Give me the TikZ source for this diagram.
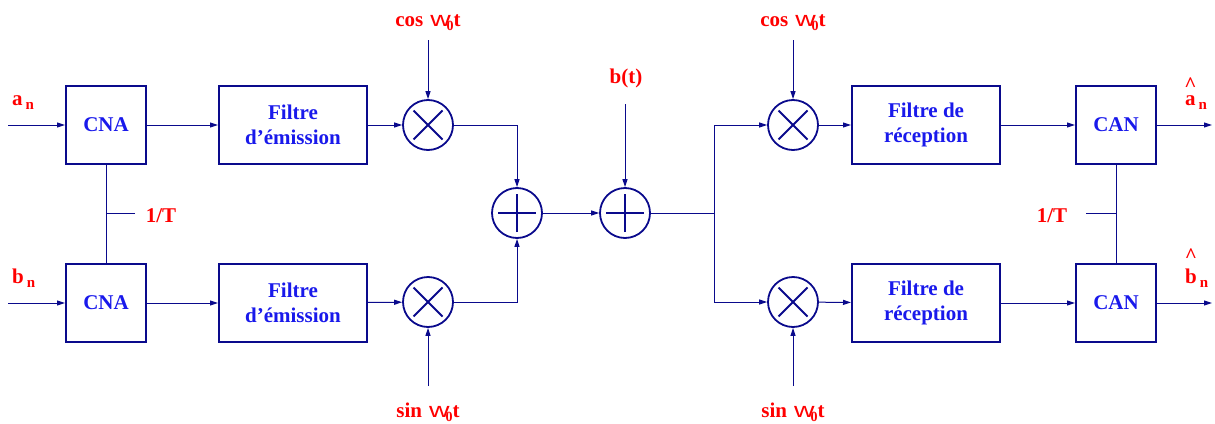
\documentclass[tikz,border=0pt]{standalone}
\usepackage{graphicx}
\usepackage{fontspec}
\setmainfont{Liberation Serif}
\setsansfont{Liberation Sans}
\usetikzlibrary{arrows.meta}
\definecolor{navy}{RGB}{10,10,140}
\definecolor{tblue}{RGB}{25,25,235}
\definecolor{lred}{RGB}{255,0,0}
\newcommand{\wz}{{\sffamily\mdseries\scalebox{1.35}[1]{w}}\kern-4pt\raisebox{-4pt}{\fontsize{14}{14}\selectfont\bfseries 0}}
\newcommand{\subn}{\kern3pt\raisebox{-4pt}{\fontsize{15}{15}\selectfont n}}
\newcommand{\hatover}[2]{\ooalign{#1\cr\hidewidth\raisebox{#2}{\^{}}\hidewidth\cr}}
\begin{document}
\begin{tikzpicture}[x=1pt,y=-1pt,
  blk/.style={draw=navy, line width=2pt, minimum height=78pt, inner sep=0pt,
    align=center, text=tblue, font=\bfseries\fontsize{21}{25}\selectfont},
  small/.style={blk, minimum width=80pt},
  wide/.style={blk, minimum width=148pt},
  mult/.style={circle, draw=navy, line width=1.8pt, minimum size=50pt, inner sep=0pt,
    path picture={\draw[navy, line width=1.8pt]
      ([shift={(-14.5pt,-14.5pt)}]path picture bounding box.center) -- ([shift={(14.5pt,14.5pt)}]path picture bounding box.center)
      ([shift={(-14.5pt,14.5pt)}]path picture bounding box.center) -- ([shift={(14.5pt,-14.5pt)}]path picture bounding box.center);}},
  add/.style={circle, draw=navy, line width=1.8pt, minimum size=50pt, inner sep=0pt,
    path picture={\draw[navy, line width=1.8pt]
      ([shift={(-19pt,0pt)}]path picture bounding box.center) -- ([shift={(19pt,0pt)}]path picture bounding box.center)
      ([shift={(0pt,-19pt)}]path picture bounding box.center) -- ([shift={(0pt,19pt)}]path picture bounding box.center);}},
  lbl/.style={text=lred, font=\bfseries\fontsize{21}{25}\selectfont, inner sep=0pt},
  wire/.style={draw=navy, line width=1pt},
  arr/.style={wire, -{Triangle[length=8pt,width=5pt]}}
]
\useasboundingbox (0,0) rectangle (1215,423);

% blocks
\node[small] (cna1) at (106,125) {CNA};
\node[small] (cna2) at (106,303) {CNA};
\node[wide] (fe1) at (293,125) {Filtre\\d'émission};
\node[wide] (fe2) at (293,303) {Filtre\\d'émission};
\node[mult] (m1) at (428,125) {};
\node[mult] (m2) at (428,302) {};
\node[add] (a1) at (517,213) {};
\node[add] (a2) at (625,213) {};
\node[mult] (m3) at (793,125) {};
\node[mult] (m4) at (793,302) {};
\node[wide] (fr1) at (926,125) {Filtre de\\réception};
\node[wide] (fr2) at (926,303) {Filtre de\\réception};
\node[small] (can1) at (1116,125) {CAN};
\node[small] (can2) at (1116,303) {CAN};

% labels
\node[lbl, anchor=base west] (an) at (12,105) {a\subn};
\node[lbl, anchor=base west] (bn) at (12,283) {b\subn};
\node[lbl, anchor=base west] (ahn) at (1185,105) {\hatover{a}{14pt}\subn};
\node[lbl, anchor=base west] (bhn) at (1185,283) {\hatover{b}{21pt}\subn};
\node[lbl, anchor=base] (cos1) at (428,26) {cos\hspace{7pt}\wz t};
\node[lbl, anchor=base] (sin1) at (428,417) {sin\hspace{7pt}\wz t};
\node[lbl, anchor=base] (cos2) at (793,26) {cos\hspace{7pt}\wz t};
\node[lbl, anchor=base] (sin2) at (793,417) {sin\hspace{7pt}\wz t};
\node[lbl, anchor=base] (bt) at (626,83) {b(t)};
\node[lbl, anchor=base] (T1) at (161,222) {1/T};
\node[lbl, anchor=base] (T2) at (1052,222) {1/T};

% free ends
\coordinate (ain) at (8,125);
\coordinate (bin) at (8,303);
\coordinate (aout) at (1212,125);
\coordinate (bout) at (1212,303);
\coordinate (c1) at (428,40);
\coordinate (s1) at (428,386);
\coordinate (c2) at (793,40);
\coordinate (s2) at (793,386);
\coordinate (btin) at (625,104);
\coordinate (split) at (714,213);
\coordinate (tk1) at (135,213);
\coordinate (tk2) at (1086,213);

% connectors
\draw[arr] (ain) -- (cna1);
\draw[arr] (bin) -- (cna2);
\draw[arr] (cna1) -- (fe1);
\draw[arr] (cna2) -- (fe2);
\draw[arr] (fe1) -- (m1);
\draw[arr] (fe2) -- (m2);
\draw[arr] (c1) -- (m1);
\draw[arr] (s1) -- (m2);
\draw[arr] (m1.east) -| (a1.north);
\draw[arr] (m2.east) -| (a1.south);
\draw[arr] (a1) -- (a2);
\draw[arr] (btin) -- (a2);
\draw[wire] (a2.east) -- (split);
\draw[arr] (split) |- (m3.west);
\draw[arr] (split) |- (m4.west);
\draw[arr] (c2) -- (m3);
\draw[arr] (s2) -- (m4);
\draw[arr] (m3) -- (fr1);
\draw[arr] (m4) -- (fr2);
\draw[arr] (fr1) -- (can1);
\draw[arr] (fr2) -- (can2);
\draw[arr] (can1) -- (aout);
\draw[arr] (can2) -- (bout);
\draw[wire] (cna1) -- (cna2);
\draw[wire] (tk1) -- (tk1 -| cna1.center);
\draw[wire] (can1) -- (can2);
\draw[wire] (tk2) -- (tk2 -| can1.center);
\end{tikzpicture}
\end{document}
